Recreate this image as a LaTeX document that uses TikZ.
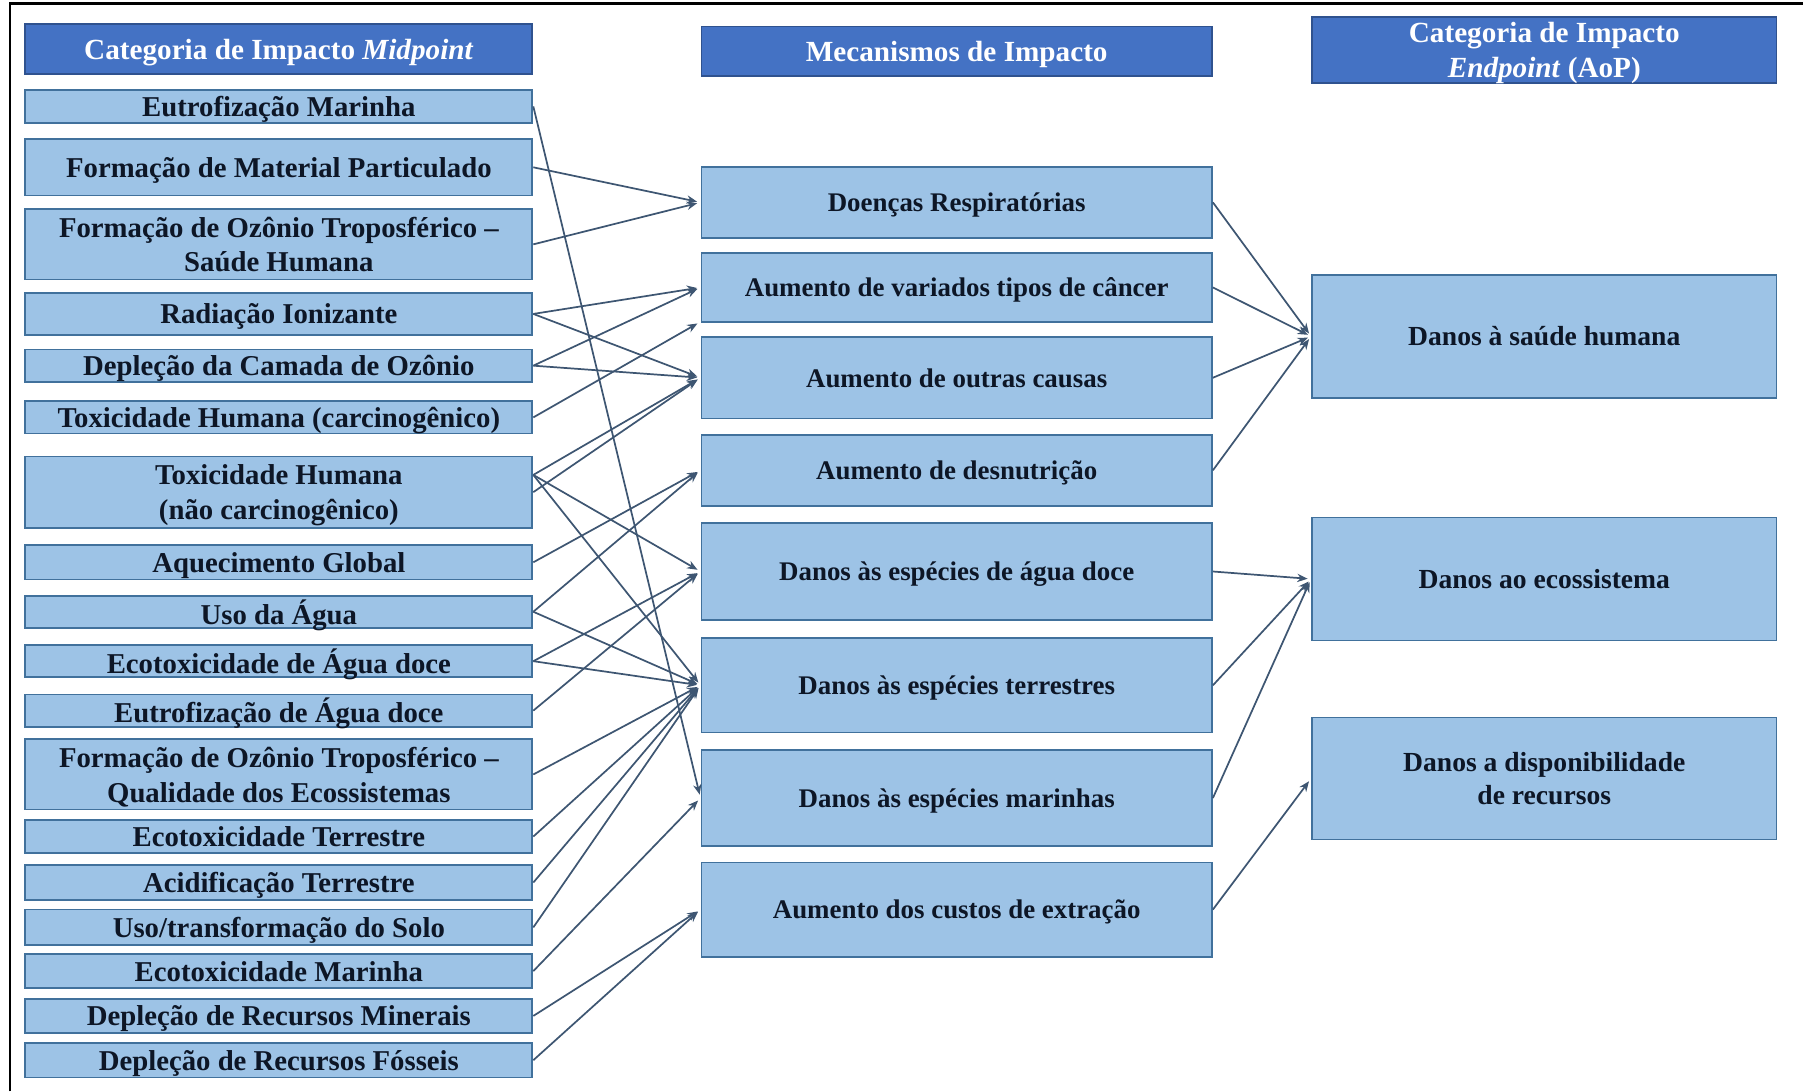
\documentclass[tikz,border=0pt]{standalone}
\usepackage{fontspec}
\setmainfont{Liberation Serif}
\usetikzlibrary{arrows.meta,calc}

\definecolor{boxfill}{HTML}{9DC3E6}
\definecolor{boxline}{HTML}{41719C}
\definecolor{headfill}{HTML}{4472C4}
\definecolor{headline}{HTML}{2F528F}
\definecolor{linkcol}{HTML}{3E5672}
\definecolor{ink}{HTML}{0D1626}

\begin{document}
\begin{tikzpicture}[x=0.5pt,y=-0.5pt,
  anybox/.style={draw=boxline, line width=0.8pt, fill=boxfill, inner sep=0pt,
    align=center, text=ink, text depth=0pt},
  lbox/.style={anybox, minimum width=220.5pt, font=\fontsize{12.5}{15.2}\selectfont\bfseries},
  mbox/.style={anybox, minimum width=222pt, font=\fontsize{11.7}{14}\selectfont\bfseries},
  rbox/.style={anybox, minimum width=202pt, font=\fontsize{12}{14}\selectfont\bfseries},
  headbox/.style={draw=headline, line width=0.8pt, fill=headfill, inner sep=0pt,
    align=center, text=white, text depth=0pt,
    font=\fontsize{12.7}{15.5}\selectfont\bfseries},
  link/.style={draw=linkcol, line width=0.75pt, shorten >=1.5pt,
    -{Stealth[length=4.5pt,width=3.6pt]}},
]
\useasboundingbox (0,0) rectangle (1568,949);

% table rules
\draw[line width=1pt, black] (9,949) -- (9,3) -- (1568,3);

% column headers
\node[headbox, minimum width=220.5pt, minimum height=21.5pt] (hl) at (242.5,42.5)
  {Categoria de Impacto \textit{Midpoint}};
\node[headbox, minimum width=222pt, minimum height=21.5pt] (hm) at (832,44.5)
  {Mecanismos de Impacto};
\node[headbox, minimum width=202pt, minimum height=28.5pt] (hr) at (1343,43.5)
  {Categoria de Impacto\\\textit{Endpoint} (AoP)};

% midpoint categories
\node[lbox, minimum height=14.5pt] (em)    at (242.5,92.5)  {Eutrofização Marinha};
\node[lbox, minimum height=24.5pt] (mp)    at (242.5,145.5) {Formação de Material Particulado};
\node[lbox, minimum height=30.5pt] (osh)   at (242.5,212.5) {Formação de Ozônio Troposférico –\\Saúde Humana};
\node[lbox, minimum height=18pt]   (rad)   at (242.5,273)   {Radiação Ionizante};
\node[lbox, minimum height=14pt]   (dco)   at (242.5,318)   {Depleção da Camada de Ozônio};
\node[lbox, minimum height=14pt]   (carc)  at (242.5,363)   {Toxicidade Humana (carcinogênico)};
\node[lbox, minimum height=31pt]   (ncarc) at (242.5,428)   {Toxicidade Humana\\(não carcinogênico)};
\node[lbox, minimum height=15pt]   (aq)    at (242.5,489)   {Aquecimento Global};
\node[lbox, minimum height=14pt]   (agua)  at (242.5,532)   {Uso da Água};
\node[lbox, minimum height=14pt]   (ecod)  at (242.5,575)   {Ecotoxicidade de Água doce};
\node[lbox, minimum height=14pt]   (eutd)  at (242.5,618)   {Eutrofização de Água doce};
\node[lbox, minimum height=30.5pt] (oeco)  at (242.5,673.5) {Formação de Ozônio Troposférico –\\Qualidade dos Ecossistemas};
\node[lbox, minimum height=14.5pt] (ecot)  at (242.5,727.5) {Ecotoxicidade Terrestre};
\node[lbox, minimum height=15.5pt] (acid)  at (242.5,767.5) {Acidificação Terrestre};
\node[lbox, minimum height=15.5pt] (solo)  at (242.5,806.5) {Uso/transformação do Solo};
\node[lbox, minimum height=14.5pt] (ecom)  at (242.5,844.5) {Ecotoxicidade Marinha};
\node[lbox, minimum height=14.5pt] (mine)  at (242.5,883.5) {Depleção de Recursos Minerais};
\node[lbox, minimum height=15pt]   (foss)  at (242.5,922)   {Depleção de Recursos Fósseis};

% impact mechanisms
\node[mbox, minimum height=31pt]   (resp) at (832,176)   {Doenças Respiratórias};
\node[mbox, minimum height=30pt]   (var)  at (832,250)   {Aumento de variados tipos de câncer};
\node[mbox, minimum height=35.5pt] (out)  at (832,328.5) {Aumento de outras causas};
\node[mbox, minimum height=31pt]   (des)  at (832,409)   {Aumento de desnutrição};
\node[mbox, minimum height=42pt]   (doce) at (832,497)   {Danos às espécies de água doce};
\node[mbox, minimum height=41pt]   (ter)  at (832,596)   {Danos às espécies terrestres};
\node[mbox, minimum height=42pt]   (mar)  at (832,694)   {Danos às espécies marinhas};
\node[mbox, minimum height=41pt]   (cus)  at (832,791)   {Aumento dos custos de extração};

% endpoint categories
\node[rbox, minimum height=53.5pt] (sau) at (1343,292.5) {Danos à saúde humana};
\node[rbox, minimum height=53.5pt] (eco) at (1343,503.5) {Danos ao ecossistema};
\node[rbox, minimum height=53pt]   (rec) at (1343,677)   {Danos a disponibilidade\\de recursos};

% extra attachment points
\coordinate (ncarcA) at ($(ncarc.east)+(0,-15)$);
\coordinate (varC)   at ($(var.south west)+(0,-1)$);

% midpoint -> mechanism
\draw[link] (em.east) -- (mar.west);
\draw[link] (mp.east) -- (resp.west);
\draw[link] (osh.east) -- (resp.west);
\draw[link] (rad.east) -- (var.west);
\draw[link] (rad.east) -- (out.west);
\draw[link] (dco.east) -- (var.west);
\draw[link] (dco.east) -- (out.west);
\draw[link] (carc.east) -- (varC);
\draw[link] (ncarcA) -- (out.west);
\draw[link] (ncarc.east) -- (out.west);
\draw[link] (ncarcA) -- (doce.west);
\draw[link] (ncarcA) -- (ter.west);
\draw[link] (aq.east) -- (des.west);
\draw[link] (agua.east) -- (des.west);
\draw[link] (agua.east) -- (ter.west);
\draw[link] (ecod.east) -- (doce.west);
\draw[link] (ecod.east) -- (ter.west);
\draw[link] (eutd.east) -- (doce.west);
\draw[link] (oeco.east) -- (ter.west);
\draw[link] (ecot.east) -- (ter.west);
\draw[link] (acid.east) -- (ter.west);
\draw[link] (solo.east) -- (ter.west);
\draw[link] (ecom.east) -- (mar.west);
\draw[link] (mine.east) -- (cus.west);
\draw[link] (foss.east) -- (cus.west);

% mechanism -> endpoint
\draw[link] (resp.east) -- (sau.west);
\draw[link] (var.east) -- (sau.west);
\draw[link] (out.east) -- (sau.west);
\draw[link] (des.east) -- (sau.west);
\draw[link] (doce.east) -- (eco.west);
\draw[link] (ter.east) -- (eco.west);
\draw[link] (mar.east) -- (eco.west);
\draw[link] (cus.east) -- (rec.west);
\end{tikzpicture}
\end{document}
